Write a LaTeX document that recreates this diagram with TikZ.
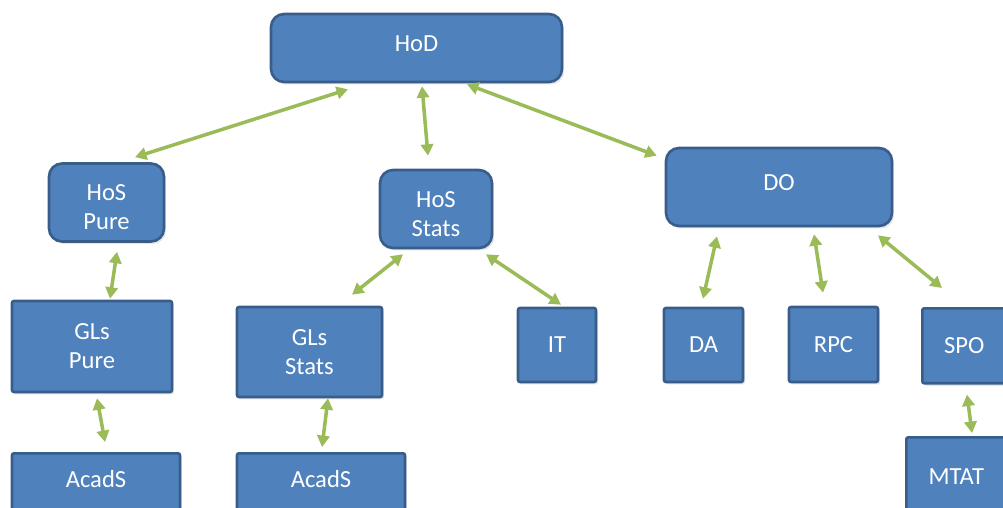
\documentclass[tikz,border=0pt]{standalone}
\usepackage{fontspec}
\setmainfont{Carlito}
\usepackage{xcolor}
\usetikzlibrary{arrows.meta, shadows}
\definecolor{boxblue}{HTML}{4F81BD}
\definecolor{boxedge}{HTML}{385D8A}
\definecolor{linkgreen}{HTML}{9BBB59}
% pushes a two-line label a little down in its box
\newcommand{\padtop}{\rule{0pt}{\dimexpr\fontcharht\font`H+0.2cm\relax}}

\begin{document}
\begin{tikzpicture}[x=0.02cm, y=-0.02cm]
    % Styles
    \tikzstyle{unitbox} = [rectangle, rounded corners=0.04cm, draw=boxedge, line width=1.5pt, fill=boxblue, text=white, align=center, font=\fontsize{14}{16.5}\selectfont, drop shadow={shadow xshift=0.04cm, shadow yshift=-0.05cm, opacity=0.2}]
    \tikzstyle{headbox} = [unitbox, rounded corners=0.26cm]
    \tikzstyle{link} = [linkgreen, line width=2pt, <->, >={Triangle[length=6.5pt, width=7pt]}]

    % Page frame
    \path[use as bounding box, clip] (0,0) rectangle (1003,507);

    % Nodes - top levels
    \node[headbox, minimum width=5.82cm, minimum height=1.36cm, text depth=0.16cm] (hod) at (416.5,48) {HoD};
    \node[headbox, minimum width=2.3cm, minimum height=1.56cm] (hosp) at (106.5,202.5) {\padtop HoS\\Pure};
    \node[headbox, minimum width=2.24cm, minimum height=1.56cm] (hoss) at (436,209) {\padtop HoS\\Stats};
    \node[headbox, minimum width=4.52cm, minimum height=1.56cm, text depth=0.16cm] (do) at (779,187) {DO};

    % Nodes - units
    \node[unitbox, minimum width=3.2cm, minimum height=1.82cm] (glsp) at (92,346.5) {GLs\\Pure};
    \node[unitbox, minimum width=2.9cm, minimum height=1.8cm] (glss) at (309.5,352) {GLs\\Stats};
    \node[unitbox, minimum width=1.56cm, minimum height=1.48cm] (it) at (557,345) {IT};
    \node[unitbox, minimum width=1.58cm, minimum height=1.48cm] (da) at (703.5,345) {DA};
    \node[unitbox, minimum width=1.78cm, minimum height=1.5cm] (rpc) at (833.5,344.5) {RPC};
    \node[unitbox, anchor=north west, minimum width=1.68cm, minimum height=1.5cm] (spo) at (921,307) {SPO};

    % Nodes - cut off at the page edge
    \node[unitbox, anchor=north, minimum width=3.36cm, inner ysep=0pt, text height=0.68cm, text depth=1cm] (acadp) at (96,452) {AcadS};
    \node[unitbox, anchor=north, minimum width=3.36cm, inner ysep=0pt, text height=0.68cm, text depth=1cm] (acads) at (321,452) {AcadS};
    \node[unitbox, anchor=north west, minimum width=2cm, inner ysep=0pt, text height=0.94cm, text depth=1cm] (mtat) at (905,436) {MTAT};

    % Arrows
    \draw[link] ([shift={(-68.5,6)}]hod.south) -- ([shift={(28.5,-5)}]hosp.north);
    \draw[link] ([shift={(5.5,3)}]hod.south) -- ([shift={(-8,-13)}]hoss.north);
    \draw[link] ([shift={(50.5,1)}]hod.south) -- ([shift={(-8,9)}]do.north west);
    \draw[link] ([shift={(10.5,9)}]hosp.south) -- ([shift={(18,-1)}]glsp.north);
    \draw[link] ([shift={(5,5)}]glsp.south) -- ([shift={(9,-10)}]acadp.north);
    \draw[link] ([shift={(-33,5)}]hoss.south) -- ([shift={(42.5,-11)}]glss.north);
    \draw[link] ([shift={(50,5)}]hoss.south) -- ([shift={(4,-2)}]it.north);
    \draw[link] ([shift={(18.5,0)}]glss.south) -- ([shift={(1,-5)}]acads.north);
    \draw[link] ([shift={(-62,9)}]do.south) -- ([shift={(-0.5,-8)}]da.north);
    \draw[link] ([shift={(35,7)}]do.south) -- ([shift={(-10.5,-13)}]rpc.north);
    \draw[link] ([shift={(99,8)}]do.south) -- ([shift={(21,-19)}]spo.north west);
    \draw[link] ([shift={(46,10)}]spo.south west) -- ([shift={(67,-3)}]mtat.north west);
\end{tikzpicture}
\end{document}
